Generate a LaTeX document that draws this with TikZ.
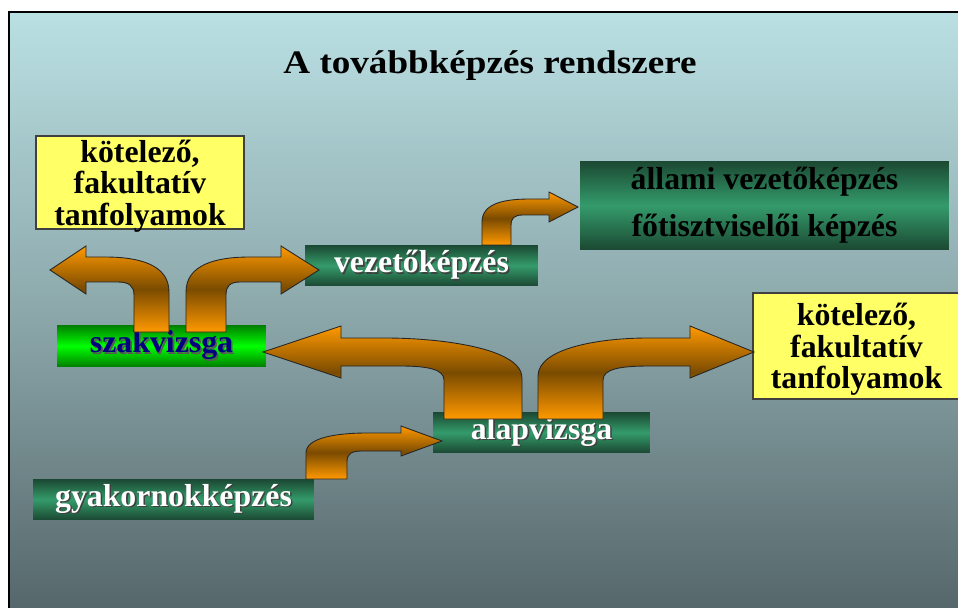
\documentclass[tikz,border=0pt]{standalone}
\usepackage{fontspec}
\setmainfont{Liberation Serif}
\usepackage{graphicx}

\definecolor{bgtop}{RGB}{186,224,227}
\definecolor{bgmid}{RGB}{140,168,171}
\definecolor{bgbot}{RGB}{86,103,107}
\definecolor{kyellow}{RGB}{255,255,102}
\definecolor{gdark}{RGB}{27,72,50}
\definecolor{gmid}{RGB}{52,155,107}
\definecolor{sdark}{RGB}{0,125,0}
\definecolor{smid}{RGB}{0,255,0}
\definecolor{navy}{RGB}{0,0,128}
\definecolor{aorange}{RGB}{255,153,0}
\definecolor{abrown}{RGB}{122,75,0}

\newcommand\kfont{\fontsize{18.1}{17.9}\selectfont\bfseries}
% text with a small dark shadow below right
\newcommand\shtext[2]{\makebox[0pt][l]{\hspace{0.9pt}\raisebox{-0.9pt}{\color{#2}#1}}#1}

\begin{document}
\begin{tikzpicture}[x=0.02cm,y=-0.02cm,
  kbox/.style={draw=black!75, line width=0.6pt, fill=kyellow, align=center, font=\kfont, inner sep=0pt, text depth=0pt},
  gbox/.style={top color=gdark, bottom color=gdark, middle color=gmid, inner sep=0pt, font=\kfont, text=white},
  sbox/.style={top color=sdark, bottom color=sdark, middle color=smid, inner sep=0pt, font=\kfont, text=navy},
  bent/.style={draw=black!85, line width=0.5pt, top color=aorange, bottom color=aorange, middle color=abrown}]
\useasboundingbox (0,0) rectangle (958,608);

% background of the slide
\path[top color=bgtop, bottom color=bgbot, middle color=bgmid] (9,12) rectangle (958,608);
\draw[line width=1.2pt] (9,608) -- (9,12) -- (958,12);

\node (title) at (490,66) {\fontsize{18.7}{20}\selectfont\bfseries\scalebox{1.13}[1]{A továbbképzés rendszere}};

% boxes
\node[kbox, minimum width=4.16cm, minimum height=1.86cm] (kot1) at (140,182.5) {kötelező,\\fakultatív\\tanfolyamok};
\node[kbox, minimum width=4.14cm, minimum height=2.12cm] (kot2) at (856.5,346) {kötelező,\\fakultatív\\tanfolyamok};
\node[gbox, minimum width=4.66cm, minimum height=0.82cm] (vez) at (421.5,265.5) {\shtext{vezetőképzés}{black!75}};
\node[gbox, minimum width=7.38cm, minimum height=1.78cm, text=black, align=center,
      font=\fontsize{18.1}{26.6}\selectfont\bfseries] (allami) at (764.5,205.5) {állami vezetőképzés\\főtisztviselői képzés};
\node[sbox, minimum width=4.18cm, minimum height=0.84cm] (szak) at (161.5,346) {\shtext{szakvizsga}{black!65}};
\node[gbox, minimum width=4.34cm, minimum height=0.82cm] (alap) at (541.5,432.5) {\shtext{alapvizsga}{black!75}};
\node[gbox, minimum width=5.62cm, minimum height=0.82cm] (gyak) at (173.5,499.5) {\shtext{gyakornokképzés}{black!75}};

% bent arrows
\draw[bent] (169,332) -- (169,292) .. controls (169,265) and (140,257) .. (105,257) -- (86,257) -- (86,246)
  -- (50,270) -- (86,294) -- (86,282) -- (118,282) .. controls (129,282) and (134,286) .. (134,295) -- (134,332) -- cycle;
\draw[bent] (186,332) -- (186,292) .. controls (186,265) and (215,257) .. (250,257) -- (281,257) -- (281,246)
  -- (319,270) -- (281,294) -- (281,282) -- (240,282) .. controls (230,282) and (226,286) .. (226,295) -- (226,332) -- cycle;
\draw[bent] (482,245) -- (482,222) .. controls (482,203) and (505,199) .. (530,199) -- (549,199) -- (549,192)
  -- (578,207) -- (549,222) -- (549,215) -- (523,215) .. controls (514,215) and (511,218) .. (511,226) -- (511,245) -- cycle;
\draw[bent] (522,419) -- (522,378) .. controls (522,348) and (440,338) .. (385,338) -- (341,338) -- (341,326)
  -- (263,352) -- (341,378) -- (341,366) -- (400,366) .. controls (430,366) and (444,370) .. (444,380) -- (444,419) -- cycle;
\draw[bent] (538,419) -- (538,376) .. controls (538,348) and (600,338) .. (648,338) -- (690,338) -- (690,326)
  -- (754,352) -- (690,378) -- (690,366) -- (650,366) .. controls (620,366) and (603,369) .. (603,380) -- (603,419) -- cycle;
\draw[bent] (306,479) -- (306,453) .. controls (306,438) and (335,433) .. (368,433) -- (401,433) -- (401,426)
  -- (442,441) -- (401,456) -- (401,451) -- (362,451) .. controls (351,451) and (347,454) .. (347,462) -- (347,479) -- cycle;
\end{tikzpicture}
\end{document}
